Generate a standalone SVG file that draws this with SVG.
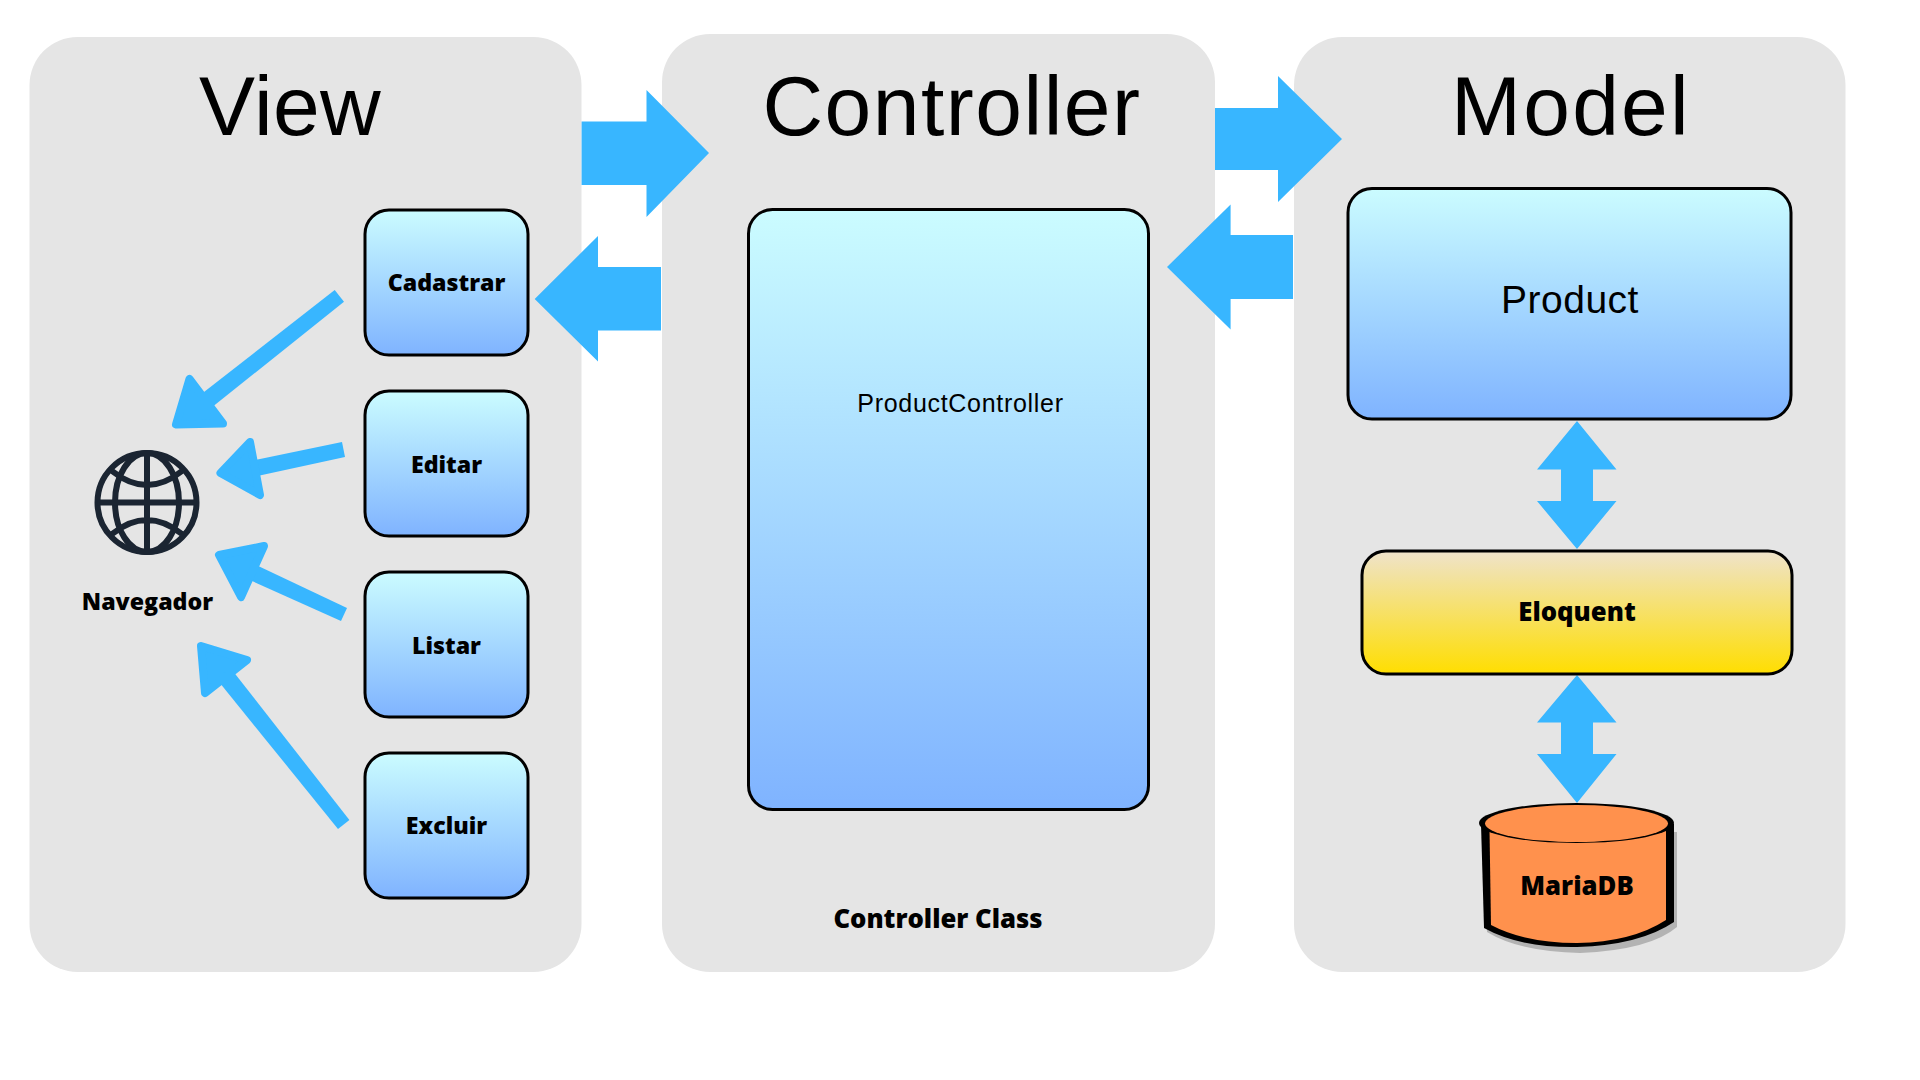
<svg xmlns="http://www.w3.org/2000/svg" width="1920" height="1080" viewBox="0 0 1920 1080">
<defs>
<linearGradient id="blue" x1="0" y1="0" x2="0" y2="1"><stop offset="0" stop-color="#cbfcff"/><stop offset="1" stop-color="#7fb3ff"/></linearGradient>
<linearGradient id="yellow" x1="0" y1="0" x2="0" y2="1"><stop offset="0" stop-color="#efe3cb"/><stop offset="1" stop-color="#ffde00"/></linearGradient>
</defs>
<style>
.panel{fill:#e5e5e5}
.box{fill:url(#blue);stroke:#000;stroke-width:3}
.arrow{fill:#38b6ff}
.soft{fill:#38b6ff;stroke:#38b6ff;stroke-width:8;stroke-linejoin:round}
.title{font-family:"Liberation Sans",Arial,sans-serif;font-size:84px;fill:#000;text-anchor:middle}
.lab{font-family:"Open Sans",sans-serif;font-weight:800;font-size:23.2px;fill:#000;text-anchor:middle}
.lab2{font-family:"Open Sans",sans-serif;font-weight:800;font-size:25.7px;fill:#000;text-anchor:middle}
.reg{font-family:"Liberation Sans",Arial,sans-serif;fill:#000;text-anchor:middle}
.globe{fill:none;stroke:#1b2532;stroke-width:6}
</style>
<rect width="1920" height="1080" fill="#fff"/>
<g id="panels">
<rect class="panel" x="29.5" y="37" width="552" height="935" rx="48"/>
<rect class="panel" x="662" y="34" width="553" height="938" rx="48"/>
<rect class="panel" x="1294" y="37" width="551.5" height="935" rx="48"/>
</g>
<g id="view-title"><text class="title" x="290" y="135" letter-spacing="0.3">View</text></g>
<g id="controller-title"><text class="title" x="952" y="135" letter-spacing="1.5">Controller</text></g>
<g id="model-title"><text class="title" x="1571" y="135" letter-spacing="2.2">Model</text></g>
<g id="connectors">
<polygon class="arrow" points="581.6,121.5 646.5,121.5 646.5,90 709,153 646.5,217 646.5,185 581.6,185"/>
<polygon class="arrow" points="661,267 598,267 598,236 534.7,299 598,361.6 598,330.6 661,330.6"/>
<polygon class="arrow" points="1215,108 1278,108 1278,76 1342,139 1278,202 1278,170 1215,170"/>
<polygon class="arrow" points="1293,235 1230.6,235 1230.6,204.5 1167,267 1230.6,329.5 1230.6,299 1293,299"/>
<polygon class="arrow" points="1577,421 1616.5,469.6 1593,469.6 1593,501 1616.5,501 1577,549 1537,501 1561,501 1561,469.6 1537,469.6"/>
<polygon class="arrow" points="1577,675 1616.5,722.6 1593,722.6 1593,754 1616.5,754 1577,803 1537,754 1561,754 1561,722.6 1537,722.6"/>
<polygon class="arrow" points="334.7,290 344,301.7 206,412 195,399"/>
<polygon class="soft" points="189.5,379 176,424.5 223,423.5"/>
<polygon class="arrow" points="342,442 345,457 235,481 231,465"/>
<polygon class="soft" points="250,442 220.5,473 260,495"/>
<polygon class="arrow" points="347,608 341,621 232,572 239,557"/>
<polygon class="soft" points="219,555 264,546 241,597"/>
<polygon class="arrow" points="349.4,820 338,829 211,672 225,661"/>
<polygon class="soft" points="201,646 247,660 205,693"/>
</g>
<g id="cadastrar"><rect class="box" x="365" y="210" width="163" height="145" rx="24"/><text class="lab" x="446.5" y="291">Cadastrar</text></g>
<g id="editar"><rect class="box" x="365" y="391" width="163" height="145" rx="24"/><text class="lab" x="446.5" y="473">Editar</text></g>
<g id="listar"><rect class="box" x="365" y="572" width="163" height="145" rx="24"/><text class="lab" x="446.5" y="654">Listar</text></g>
<g id="excluir"><rect class="box" x="365" y="753" width="163" height="145" rx="24"/><text class="lab" x="446.5" y="833.5">Excluir</text></g>
<g id="navegador">
<circle class="globe" cx="147" cy="502.5" r="49.5"/>
<ellipse class="globe" cx="147" cy="502.5" rx="32" ry="49.5"/>
<path class="globe" d="M147 453V552M97.5 502.5H196.5M112 471Q147 499 182 471M112 534Q147 506 182 534"/>
<text class="lab" x="147.5" y="609.5">Navegador</text>
</g>
<g id="productcontroller"><rect class="box" x="748.5" y="209.5" width="400" height="600" rx="24"/><text class="reg" x="960.5" y="412" font-size="25" letter-spacing="0.7">ProductController</text></g>
<g id="controller-class"><text class="lab2" x="938" y="928">Controller Class</text></g>
<g id="product"><rect class="box" x="1348" y="188.5" width="443" height="230.5" rx="24"/><text class="reg" x="1570" y="313" font-size="39" letter-spacing="0.5">Product</text></g>
<g id="eloquent"><rect x="1362" y="551" width="430" height="123" rx="24" fill="url(#yellow)" stroke="#000" stroke-width="3"/><text class="lab2" x="1577" y="621">Eloquent</text></g>
<g id="mariadb">
<path d="M1485 830L1487 932Q1520 952 1580 953Q1650 950 1677 927V832Z" fill="#b3b3b3"/>
<path d="M1481 824L1484 928Q1520 948 1577 947Q1640 945 1674 922V824Z" fill="#000"/>
<path d="M1489.5 830L1491 925Q1525 943 1577 943Q1632 942 1666 920V830Z" fill="#ff914d"/>
<ellipse cx="1576.5" cy="823" rx="97.5" ry="20" fill="#000"/>
<ellipse cx="1576.5" cy="823.5" rx="91.5" ry="18.5" fill="#ff914d"/>
<text class="lab2" x="1577" y="895">MariaDB</text>
</g>
</svg>
